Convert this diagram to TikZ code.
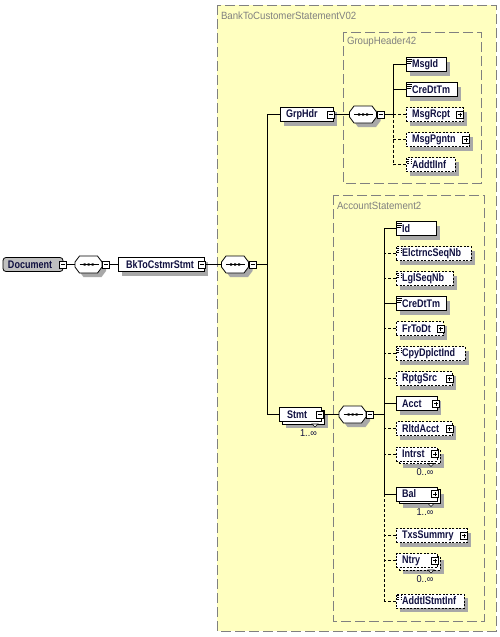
\documentclass[tikz,border=0pt]{standalone}
\usepackage{fontspec}
\setmainfont{Liberation Sans}
\newfontfamily\elfont[FakeStretch=0.82]{Liberation Sans}
\newfontfamily\lbfont[FakeStretch=0.92]{Liberation Sans}
\usetikzlibrary{shadows}
\definecolor{bgyellow}{RGB}{255,255,192}
\definecolor{boxgray}{RGB}{128,128,128}
\definecolor{shadowgray}{RGB}{168,168,168}
\definecolor{txtnavy}{RGB}{16,16,64}
\definecolor{docgray}{RGB}{192,192,192}
\newcommand{\elbox}[3][6]{\makebox[#2pt][l]{\hspace*{#1pt}#3}}
\tikzset{
  every node/.style={inner sep=0pt, outer sep=0pt},
  shad/.style={drop shadow={shadow xshift=4pt, shadow yshift=-4pt, fill=shadowgray, opacity=1}},
  elem/.style={draw=black, fill=white, line width=0.8pt, minimum height=14pt, anchor=west,
    font=\elfont\fontsize{11}{13}\selectfont\bfseries, text=txtnavy},
  optel/.style={elem, dash pattern=on 2pt off 1.5pt},
  simple/.style={path picture={\draw[line width=0.6pt]
     ([xshift=1pt,yshift=-1.5pt]path picture bounding box.north west) -- ++(5pt,0pt)
     ([xshift=1pt,yshift=-3.5pt]path picture bounding box.north west) -- ++(5pt,0pt)
     ([xshift=1pt,yshift=-5.5pt]path picture bounding box.north west) -- ++(4pt,0pt);}},
  pm/.style={draw=black, fill=white, line width=0.6pt, minimum size=7pt},
  pmminus/.style={pm, path picture={\draw[line width=0.6pt]
     ([xshift=-2pt]path picture bounding box.center) -- ([xshift=2pt]path picture bounding box.center);}},
  pmplus/.style={pm, path picture={\draw[line width=0.6pt]
     ([xshift=-2pt]path picture bounding box.center) -- ([xshift=2pt]path picture bounding box.center)
     ([yshift=-2pt]path picture bounding box.center) -- ([yshift=2pt]path picture bounding box.center);}},
  conn/.style={draw=black, line width=0.8pt},
  optconn/.style={conn, dash pattern=on 3pt off 2pt},
  grpbox/.style={draw=boxgray, line width=1pt, dash pattern=on 10pt off 4pt},
  grplabel/.style={anchor=west, text=boxgray, font=\lbfont\fontsize{10.5}{12}\selectfont},
  mult/.style={font=\lbfont\fontsize{10}{12}\selectfont, text=txtnavy},
  notch/.style={draw=black, fill=white, line width=0.6pt},
  seqpic/.pic={
    \draw[line width=0.8pt, fill=white, shad] (-13.5,-2.5) -- (-9,-8.5) -- (9,-8.5) -- (13.5,-2.5)
       -- (13.5,2.5) -- (9,8.5) -- (-9,8.5) -- (-13.5,2.5) -- cycle;
    \draw[line width=0.8pt] (-9,0) -- (10,0);
    \fill (-5,-1.2) rectangle (-3,1.2) (-1,-1.2) rectangle (1,1.2) (3,-1.2) rectangle (5,1.2);
    \node[minimum width=27pt, minimum height=17pt] (-c) at (0,0) {};
    \node[pmminus] (-pm) at (17.5,0) {};
  }
}
\begin{document}
\begin{tikzpicture}[x=1pt, y=-1pt]
\useasboundingbox (0,0) rectangle (500,637);
\fill[white] (0,0) rectangle (500,637);
% group boxes
\draw[grpbox, fill=bgyellow] (217,5) rectangle (496,631);
\node[grplabel] (lblouter) at (221,16) {BankToCustomerStatementV02};
\draw[grpbox] (343,32) rectangle (481,183);
\node[grplabel] (lblgh) at (347,42) {GroupHeader42};
\draw[grpbox] (333,195) rectangle (484,621);
\node[grplabel] (lblas) at (337,206) {AccountStatement2};

% Document and root chain
\node[elem, fill=docgray, rounded corners=3pt] (doc) at (3,264.5) {\elbox[5]{60}{Document}};
\node[pmminus] (docpm) at (doc.east) {};
\pic (seqa) at (88.5,264.5) {seqpic};
\node[elem, shad] (bk) at (118,264.5) {\elbox[8]{86}{BkToCstmrStmt}};
\node[pmminus] (bkpm) at ([xshift=-2pt]bk.east) {};
\pic (seqb) at (235,264.5) {seqpic};
\coordinate (t1) at (267,264.5);
\draw[conn] (docpm.east) -- (seqa-c.west);
\draw[conn] (seqa-pm.east) -- (bk.west);
\draw[conn] (bkpm.east) -- (seqb-c.west);
\draw[conn] (seqb-pm.east) -- (t1);

% GrpHdr
\node[elem, shad] (grphdr) at (280,114.5) {\elbox{53}{GrpHdr}};
\node[pmminus] (grphdrpm) at ([xshift=-2.5pt]grphdr.east) {};
\pic (seqg) at (363,114.5) {seqpic};
\draw[conn] (grphdr.west) -| (t1);
\draw[conn] (grphdrpm.east) -- (seqg-c.west);

% Stmt (multiple)
\node[elem, shad] (stmtb) at (282,417) {\elbox{42}{}};
\node[elem] (stmt) at (279,414.5) {\elbox[8]{42}{Stmt}};
\node[pmminus] (stmtpm) at ([xshift=-1pt]stmt.east) {};
\draw[notch] ([xshift=-12pt]stmtb.south east) -- ([xshift=-6pt]stmtb.south east) -- ([xshift=-9pt,yshift=-3pt]stmtb.south east) -- cycle;
\node[mult] (stmtmult) at (308.5,433) {1..∞};
\pic (seqs) at (352.5,414.5) {seqpic};
\draw[conn] (stmt.west) -| (t1);
\draw[conn] (stmtpm.east) -- (seqs-c.west);

% GroupHeader42 children
\node[elem, shad, simple] (msgid) at (406,64.5) {\elbox{40}{MsgId}};
\node[elem, shad, simple] (ghcre) at (406,89.5) {\elbox{51}{CreDtTm}};
\node[optel, shad] (msgrcpt) at (406,114.5) {\elbox{57}{MsgRcpt}};
\node[pmplus] (msgrcptpm) at ([xshift=-3pt]msgrcpt.east) {};
\node[optel, shad] (msgpgntn) at (406,139.5) {\elbox{63}{MsgPgntn}};
\node[pmplus] (msgpgntnpm) at ([xshift=-3pt]msgpgntn.east) {};
\node[optel, shad, simple] (addtlinf) at (406,164.5) {\elbox{49}{AddtlInf}};
\coordinate (t2) at (393,114.5);
\draw[conn] (seqg-pm.east) -- (t2);
\draw[conn] (msgid.west) -| (t2);
\draw[conn] (ghcre.west) -- (t2 |- ghcre.west);
\draw[optconn] (msgrcpt.west) -- (t2);
\draw[optconn] (t2) -- (t2 |- addtlinf.west);
\draw[optconn] (msgpgntn.west) -- (t2 |- msgpgntn.west);
\draw[optconn] (addtlinf.west) -- (t2 |- addtlinf.west);

% AccountStatement2 children
\node[elem, shad, simple] (id) at (396,228.5) {\elbox{40}{Id}};
\node[optel, shad, simple] (elctrnc) at (396,253.5) {\elbox{75}{ElctrncSeqNb}};
\node[optel, shad, simple] (lglseq) at (396,278.5) {\elbox{57}{LglSeqNb}};
\node[elem, shad, simple] (stcre) at (396,303.5) {\elbox{50}{CreDtTm}};
\node[optel, shad] (frtodt) at (396,328.5) {\elbox{47}{FrToDt}};
\node[pmplus] (frtodtpm) at ([xshift=-2.5pt]frtodt.east) {};
\node[optel, shad, simple] (cpy) at (396,353.5) {\elbox{69}{CpyDplctInd}};
\node[optel, shad] (rptgsrc) at (396,378.5) {\elbox{56}{RptgSrc}};
\node[pmplus] (rptgsrcpm) at ([xshift=-2.5pt]rptgsrc.east) {};
\node[elem, shad] (acct) at (396,403.5) {\elbox{41}{Acct}};
\node[pmplus] (acctpm) at ([xshift=-1pt]acct.east) {};
\node[optel, shad] (rltdacct) at (396,428.5) {\elbox{56}{RltdAcct}};
\node[pmplus] (rltdacctpm) at ([xshift=-2.5pt]rltdacct.east) {};
% Intrst multiple
\node[optel, shad] (intrstb) at (399,456.5) {\elbox{41}{}};
\node[optel] (intrst) at (396,454) {\elbox{41}{Intrst}};
\node[pmplus] (intrstpm) at ([xshift=-2pt]intrst.east) {};
\draw[notch] ([xshift=-12pt]intrstb.south east) -- ([xshift=-6pt]intrstb.south east) -- ([xshift=-9pt,yshift=-3pt]intrstb.south east) -- cycle;
\node[mult] (intrstmult) at (425,472) {0..∞};
% Bal multiple
\node[elem, shad] (balb) at (399,496.5) {\elbox{41}{}};
\node[elem] (bal) at (396,494) {\elbox{41}{Bal}};
\node[pmplus] (balpm) at ([xshift=-2pt]bal.east) {};
\draw[notch] ([xshift=-12pt]balb.south east) -- ([xshift=-6pt]balb.south east) -- ([xshift=-9pt,yshift=-3pt]balb.south east) -- cycle;
\node[mult] (balmult) at (425,512.5) {1..∞};
\node[optel, shad] (txs) at (396,535.5) {\elbox{71}{TxsSummry}};
\node[pmplus] (txspm) at ([xshift=-3pt]txs.east) {};
% Ntry multiple
\node[optel, shad] (ntryb) at (399,563) {\elbox{41}{}};
\node[optel] (ntry) at (396,560.5) {\elbox{41}{Ntry}};
\node[pmplus] (ntrypm) at ([xshift=-2pt]ntry.east) {};
\draw[notch] ([xshift=-12pt]ntryb.south east) -- ([xshift=-6pt]ntryb.south east) -- ([xshift=-9pt,yshift=-3pt]ntryb.south east) -- cycle;
\node[mult] (ntrymult) at (425,579) {0..∞};
\node[optel, shad, simple] (addtlstmt) at (396,601) {\elbox{68}{AddtlStmtInf}};

\coordinate (t3) at (384,414.5);
\draw[conn] (seqs-pm.east) -- (t3);
\draw[conn] (t3 |- id.west) -- (t3 |- bal.west);
\draw[optconn] (t3 |- bal.west) -- (t3 |- addtlstmt.west);
\draw[conn] (id.west) -- (t3 |- id.west);
\draw[optconn] (elctrnc.west) -- (t3 |- elctrnc.west);
\draw[optconn] (lglseq.west) -- (t3 |- lglseq.west);
\draw[conn] (stcre.west) -- (t3 |- stcre.west);
\draw[optconn] (frtodt.west) -- (t3 |- frtodt.west);
\draw[optconn] (cpy.west) -- (t3 |- cpy.west);
\draw[optconn] (rptgsrc.west) -- (t3 |- rptgsrc.west);
\draw[conn] (acct.west) -- (t3 |- acct.west);
\draw[optconn] (rltdacct.west) -- (t3 |- rltdacct.west);
\draw[optconn] (intrst.west) -- (t3 |- intrst.west);
\draw[conn] (bal.west) -- (t3 |- bal.west);
\draw[optconn] (txs.west) -- (t3 |- txs.west);
\draw[optconn] (ntry.west) -- (t3 |- ntry.west);
\draw[optconn] (addtlstmt.west) -- (t3 |- addtlstmt.west);
\end{tikzpicture}
\end{document}
